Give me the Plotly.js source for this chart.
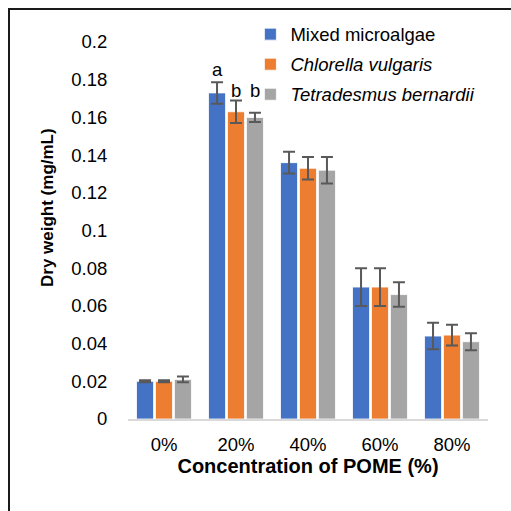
<!DOCTYPE html>
<html><head><meta charset="utf-8">
<script src="https://cdn.plot.ly/plotly-3.0.1.min.js"></script>
<style>
html,body{margin:0;padding:0;background:#fff;}
#wrap{position:relative;width:511px;height:511px;overflow:hidden;}
#chart{position:absolute;left:0;top:0;width:511px;height:511px;}
#frame{position:absolute;left:8px;top:8px;width:600px;height:600px;border-top:2px solid #1a1a1a;border-left:2px solid #1a1a1a;pointer-events:none;}
</style></head>
<body><div id="wrap"><div id="chart"></div><div id="frame"></div></div>
<script>
const categories = ["0%", "20%", "40%", "60%", "80%"];
const seriesNames = ["Mixed microalgae", "<i>Chlorella vulgaris</i>", "<i>Tetradesmus bernardii</i>"];
const mixedValues = [0.020, 0.173, 0.136, 0.070, 0.044];
const mixedErrors = [0.0005, 0.0057, 0.0058, 0.010, 0.007];
const chlorellaValues = [0.020, 0.163, 0.133, 0.070, 0.0445];
const chlorellaErrors = [0.0005, 0.006, 0.006, 0.010, 0.0055];
const tetraValues = [0.021, 0.160, 0.132, 0.066, 0.041];
const tetraErrors = [0.0015, 0.0025, 0.007, 0.0065, 0.0045];
const letterLabels = ["a", "b", "b"];
const letterValues = [0.1855, 0.1745, 0.1745];
const yTickVals = [0, 0.02, 0.04, 0.06, 0.08, 0.1, 0.12, 0.14, 0.16, 0.18, 0.2];
const yTickText = ["0", "0.02", "0.04", "0.06", "0.08", "0.1", "0.12", "0.14", "0.16", "0.18", "0.2"];
const colors = ["#4472C4", "#ED7D31", "#A5A5A5"];

const FONT = "Liberation Sans, Arial, sans-serif";
const vals = [mixedValues, chlorellaValues, tetraValues];
const errs = [mixedErrors, chlorellaErrors, tetraErrors];

const traces = vals.map((v, i) => ({
  type: "bar",
  name: seriesNames[i],
  x: categories,
  y: v,
  legendgroup: "g" + i,
  marker: {color: colors[i], line: {color: "#ffffff", width: 0.8}},
  error_y: {type: "data", array: errs[i], visible: true, color: "#595959", thickness: 2, width: 6}
}));

const groupIndex = 1;
const nBars = 3, bargap = 0.21;
const slot = (1 - bargap) / nBars;
const annotations = letterLabels.map((t, i) => ({
  x: groupIndex + (i - 1) * slot, xref: "x", y: letterValues[i], yref: "y",
  text: t, showarrow: false, yanchor: "middle", xanchor: "center",
  font: {family: FONT, size: 18.5, color: "#000"}
}));
annotations.push({
  xref: "paper", yref: "paper", x: (47 - 128) / 360, y: (419 - 208) / 377,
  text: "<b>Dry weight (mg/mL)</b>", textangle: -90, showarrow: false,
  xanchor: "center", yanchor: "middle",
  font: {family: FONT, size: 17, color: "#000"}
});

const layout = {
  width: 511, height: 511,
  margin: {l: 128, r: 23, t: 42, b: 92},
  paper_bgcolor: "#fff", plot_bgcolor: "#fff",
  barmode: "group", bargap: bargap, bargroupgap: 0.1,
  font: {family: FONT, color: "#000"},
  showlegend: true,
  legend: {x: 0.34, y: 1.07, xanchor: "left", yanchor: "top",
    font: {family: FONT, size: 18.5, color: "#000"},
    bgcolor: "rgba(0,0,0,0)", traceorder: "grouped", tracegroupgap: 3, itemwidth: 30},
  xaxis: {
    type: "category", showgrid: false, showline: true, linecolor: "#d9d9d9", linewidth: 2,
    ticks: "outside", ticklen: 8, tickcolor: "rgba(0,0,0,0)",
    tickfont: {family: FONT, size: 18.5, color: "#000"},
    title: {text: "<b>Concentration of POME (%)</b>", standoff: 4, font: {family: FONT, size: 20, color: "#000"}}
  },
  yaxis: {
    range: [0, 0.2], showgrid: false, zeroline: false, showline: false,
    tickvals: yTickVals, ticktext: yTickText,
    ticks: "outside", ticklen: 16, tickcolor: "rgba(0,0,0,0)",
    tickfont: {family: FONT, size: 18.5, color: "#000"}
  },
  annotations: annotations
};

Plotly.newPlot("chart", traces, layout, {displayModeBar: false, staticPlot: true});
</script></body></html>
